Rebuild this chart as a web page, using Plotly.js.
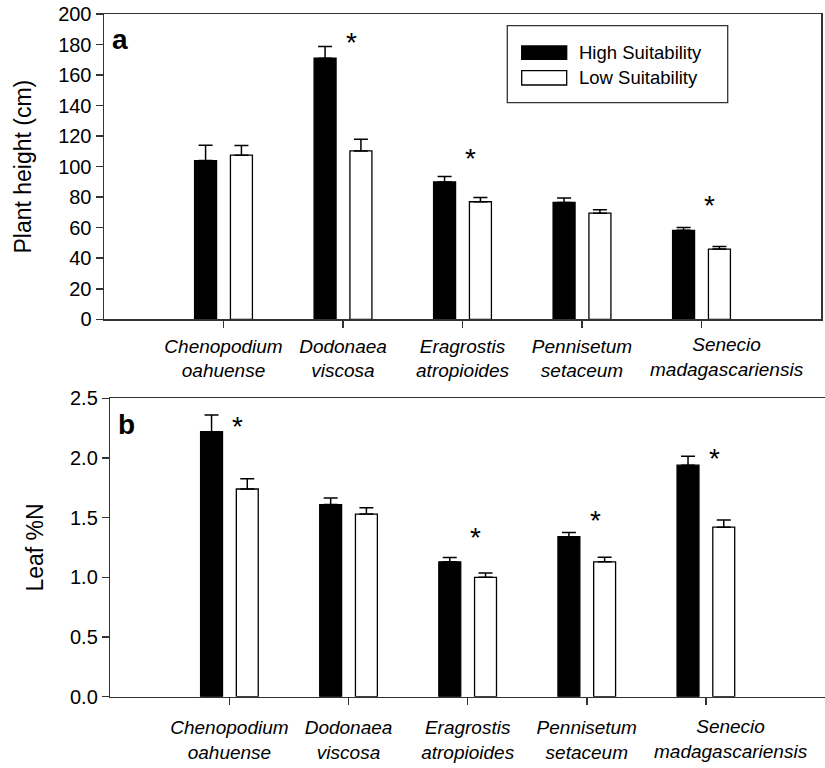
<!DOCTYPE html>
<html>
<head>
<meta charset="utf-8">
<script src="https://cdn.plot.ly/plotly-3.0.1.min.js"></script>
<style>html,body{margin:0;padding:0;background:#fff;}#chart{width:825px;height:768px;}</style>
</head>
<body>
<div id="chart"></div>
<script>
// ---- data ----
const species = ['Chenopodium<br>oahuense', 'Dodonaea<br>viscosa', 'Eragrostis<br>atropioides', 'Pennisetum<br>setaceum', 'Senecio<br>madagascariensis'];
const seriesNames = ['High Suitability', 'Low Suitability'];

const heightHigh = [104, 171, 90, 76.5, 58.3];
const heightHighErr = [10, 7.7, 3.5, 3.0, 1.8];
const heightLow = [107.5, 110.3, 77, 69.5, 46];
const heightLowErr = [6.3, 7.7, 2.8, 2.3, 1.7];

const nHigh = [2.22, 1.61, 1.13, 1.34, 1.94];
const nHighErr = [0.14, 0.055, 0.036, 0.035, 0.075];
const nLow = [1.74, 1.53, 1.00, 1.13, 1.42];
const nLowErr = [0.087, 0.053, 0.036, 0.039, 0.061];

// significance markers: category index and height of the asterisk
const sigHeightIdx = [1, 2, 4];
const sigHeightY = [183.6, 107.6, 76.8];
const sigNIdx = [0, 2, 3, 4];
const sigNY = [2.29, 1.363, 1.5, 2.018];

const yTicksHeight = [0, 20, 40, 60, 80, 100, 120, 140, 160, 180, 200];
const yTicksN = [0, 0.5, 1.0, 1.5, 2.0, 2.5];

// ---- helpers ----
const W = 825, H = 768;
const px = x => x / W;
const py = y => 1 - y / H;
const FONT = 'Liberation Sans, Arial, sans-serif';
const LINE = '#333';
const last = species.length - 1;

// the last label sits a little to the right of its tick in the original figure,
// so it is drawn as an annotation with a horizontal shift
const tickText = species.map((s, i) => i === last ? '' : s);

function barTrace(x, y, err, fill, name, xa, ya, offset) {
  return {
    type: 'bar', x: x, y: y, name: name, xaxis: xa, yaxis: ya,
    width: 0.184, offset: offset,
    marker: {color: fill, line: {color: '#000', width: 1.3}},
    error_y: {type: 'data', array: err, arrayminus: err.map(() => 0), symmetric: false,
              color: '#000', thickness: 1.5, width: 7},
    hoverinfo: 'skip', showlegend: false
  };
}

const traces = [
  barTrace(species, heightHigh, heightHighErr, '#000', seriesNames[0], 'x', 'y', -0.242),
  barTrace(species, heightLow, heightLowErr, '#fff', seriesNames[1], 'x', 'y', 0.058),
  barTrace(species, nHigh, nHighErr, '#000', seriesNames[0], 'x2', 'y2', -0.242),
  barTrace(species, nLow, nLowErr, '#fff', seriesNames[1], 'x2', 'y2', 0.058)
];

const tickFont = {family: FONT, size: 19, color: '#000', style: 'italic'};
const xCommon = {
  type: 'category', range: [-1, 5], showline: true, mirror: true, linecolor: LINE, linewidth: 1.5,
  ticks: 'outside', ticklen: 7, tickwidth: 1.5, tickcolor: LINE, showgrid: false, zeroline: false,
  tickangle: 0, tickmode: 'array', tickvals: species, ticktext: tickText,
  tickfont: tickFont, fixedrange: true
};
const yCommon = {
  showline: true, mirror: true, linecolor: LINE, linewidth: 1.5,
  ticks: 'outside', ticklen: 7, tickwidth: 1.5, tickcolor: LINE, showgrid: false, zeroline: false,
  tickfont: {family: FONT, size: 20, color: '#000'}, fixedrange: true
};

const annotations = [];
const sigFont = {family: FONT, size: 28, color: '#000'};
sigHeightIdx.forEach((c, i) => annotations.push({
  xref: 'x', yref: 'y', x: c + 0.07, y: sigHeightY[i], text: '*', showarrow: false,
  font: sigFont, xanchor: 'center', yanchor: 'middle', yshift: -3
}));
sigNIdx.forEach((c, i) => annotations.push({
  xref: 'x2', yref: 'y2', x: c + 0.07, y: sigNY[i], text: '*', showarrow: false,
  font: sigFont, xanchor: 'center', yanchor: 'middle', yshift: -3
}));
// shifted last category label on both panels
[['x', 319.3, 13], ['x2', 696.7, 17]].forEach(([xr, axisY, gap]) => annotations.push({
  xref: xr, yref: 'paper', x: last, y: py(axisY), yanchor: 'top', xanchor: 'center',
  xshift: 25, yshift: -gap, text: species[last], showarrow: false, font: tickFont
}));
// panel letters
annotations.push({xref: 'paper', yref: 'paper', x: px(110), y: py(39.5), text: '<b>a</b>', showarrow: false,
  xanchor: 'left', yanchor: 'middle', font: {family: FONT, size: 28, color: '#000'}});
annotations.push({xref: 'paper', yref: 'paper', x: px(116), y: py(424.8), text: '<b>b</b>', showarrow: false,
  xanchor: 'left', yanchor: 'middle', font: {family: FONT, size: 28, color: '#000'}});
// legend text
annotations.push({xref: 'paper', yref: 'paper', x: px(577), y: py(52.2), text: seriesNames[0], showarrow: false,
  xanchor: 'left', yanchor: 'middle', font: {family: FONT, size: 18.5, color: '#000'}});
annotations.push({xref: 'paper', yref: 'paper', x: px(577), y: py(77.8), text: seriesNames[1], showarrow: false,
  xanchor: 'left', yanchor: 'middle', font: {family: FONT, size: 18.5, color: '#000'}});

const shapes = [
  {type: 'rect', xref: 'paper', yref: 'paper', x0: px(507.3), x1: px(727.7), y0: py(25.7), y1: py(102.7),
   line: {color: LINE, width: 1.3}, fillcolor: '#fff', layer: 'above'},
  {type: 'rect', xref: 'paper', yref: 'paper', x0: px(521.7), x1: px(566.7), y0: py(46), y1: py(59.3),
   line: {color: '#000', width: 1.3}, fillcolor: '#000', layer: 'above'},
  {type: 'rect', xref: 'paper', yref: 'paper', x0: px(521.7), x1: px(566.7), y0: py(70.7), y1: py(85),
   line: {color: '#000', width: 1.3}, fillcolor: '#fff', layer: 'above'}
];

const layout = {
  width: W, height: H, margin: {l: 0, r: 0, t: 0, b: 0},
  paper_bgcolor: '#fff', plot_bgcolor: '#fff', showlegend: false, barmode: 'overlay',
  font: {family: FONT, color: '#000'},
  xaxis: Object.assign({}, xCommon, {domain: [px(104), px(821)], anchor: 'y', ticklabelstandoff: 2}),
  yaxis: Object.assign({}, yCommon, {domain: [py(319.3), py(14)], anchor: 'x', range: [0, 200],
    tickvals: yTicksHeight,
    title: {text: 'Plant height (cm)', font: {family: FONT, size: 23, color: '#000'}, standoff: 20}}),
  xaxis2: Object.assign({}, xCommon, {domain: [px(110.3), 1], anchor: 'y2', ticklabelstandoff: 6}),
  yaxis2: Object.assign({}, yCommon, {domain: [py(696.7), py(398.3)], anchor: 'x2', range: [0, 2.5],
    tickvals: yTicksN, tickformat: '.1f',
    title: {text: 'Leaf %N', font: {family: FONT, size: 23, color: '#000'}, standoff: 20}}),
  annotations: annotations,
  shapes: shapes
};

Plotly.newPlot('chart', traces, layout, {displayModeBar: false, staticPlot: true});
</script>
</body>
</html>
